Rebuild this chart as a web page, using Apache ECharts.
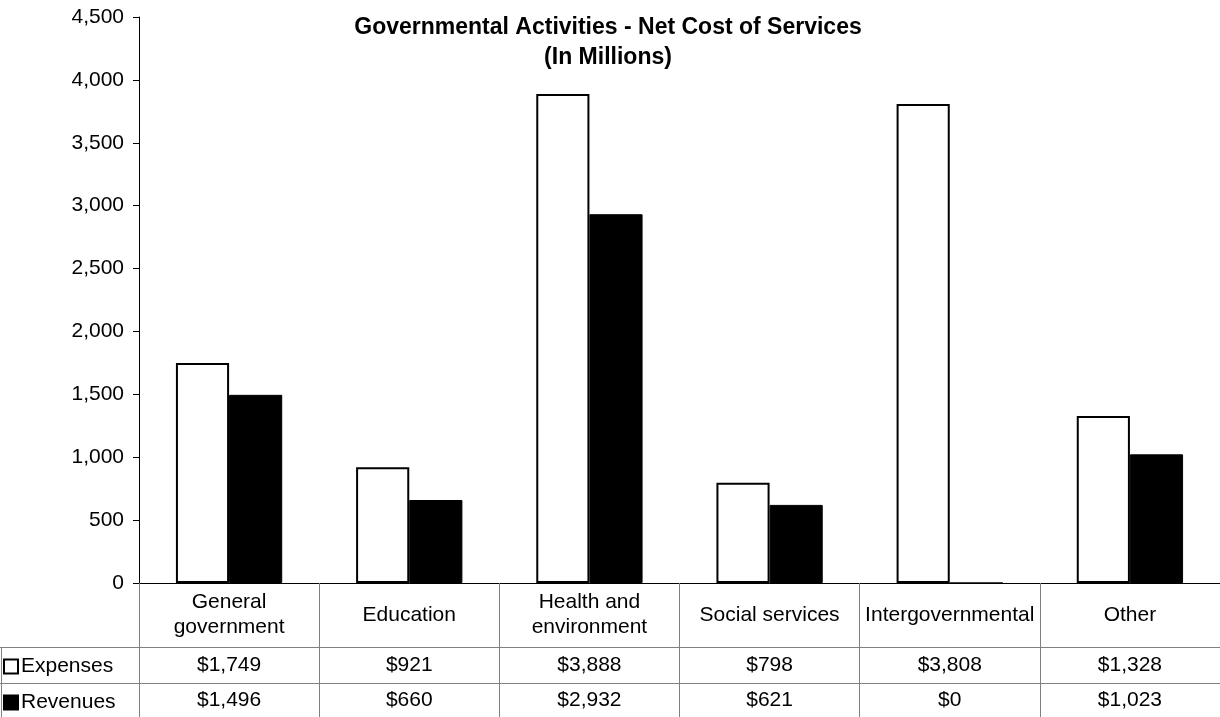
<!DOCTYPE html>
<html>
<head>
<meta charset="utf-8">
<script src="https://cdn.jsdelivr.net/npm/echarts@6/dist/echarts.min.js"></script>
<style>
  html, body { margin: 0; padding: 0; background: #fff; }
  #chart { width: 1220px; height: 717px; }
</style>
</head>
<body>
<div id="chart"></div>
<script>
const categories = ['General\ngovernment', 'Education', 'Health and\nenvironment', 'Social services', 'Intergovernmental', 'Other'];
const expenses = [1749, 921, 3888, 798, 3808, 1328];
const revenues = [1496, 660, 2932, 621, 0, 1023];

const fontFamily = '"Liberation Sans", Arial, sans-serif';
const money = v => '$' + v.toLocaleString('en-US');
const gridLine = '#808080';

const chart = echarts.init(document.getElementById('chart'));

const options = {
  animation: false,
  textStyle: { fontFamily: fontFamily, color: '#000' },
  title: {
    text: 'Governmental Activities - Net Cost of Services\n(In Millions)',
    left: 603,
    textAlign: 'center',
    top: 8,
    textStyle: { fontSize: 23, fontWeight: 'bold', lineHeight: 30, fontFamily: fontFamily, color: '#000' }
  },
  legend: {
    orient: 'vertical',
    left: 3,
    top: 654,
    padding: 0,
    itemWidth: 14,
    itemHeight: 14,
    itemGap: 11,
    icon: 'rect',
    textStyle: { fontSize: 21, lineHeight: 25, fontFamily: fontFamily, color: '#000', padding: [0, 0, 0, -2] },
    data: ['Expenses', 'Revenues']
  },
  grid: { left: 139, right: 0, top: 17, bottom: 134 },
  yAxis: {
    type: 'value',
    min: 0,
    max: 4500,
    interval: 500,
    axisLine: { show: true, lineStyle: { color: '#000', width: 1 } },
    axisTick: { show: true, length: 6, lineStyle: { color: '#000' } },
    splitLine: { show: false },
    axisLabel: {
      fontSize: 21,
      color: '#000',
      margin: 15,
      formatter: v => v.toLocaleString('en-US')
    }
  },
  xAxis: [
    {
      type: 'category',
      data: categories,
      position: 'bottom',
      axisLine: { show: true, lineStyle: { color: '#000', width: 1 } },
      axisTick: { show: true, interval: 0, length: 134, lineStyle: { color: gridLine, width: 1 } },
      axisLabel: { interval: 0, fontSize: 21, color: '#000', margin: 32, lineHeight: 25, verticalAlign: 'middle' }
    },
    {
      type: 'category',
      data: categories,
      position: 'bottom',
      offset: 64,
      axisLine: { show: true, lineStyle: { color: gridLine, width: 1 } },
      axisTick: { show: false },
      axisLabel: { interval: 0, fontSize: 21, color: '#000', margin: 18, verticalAlign: 'middle', formatter: (v, i) => money(expenses[i]) }
    },
    {
      type: 'category',
      data: categories,
      position: 'bottom',
      offset: 100,
      axisLine: { show: true, lineStyle: { color: gridLine, width: 1 } },
      axisTick: { show: false },
      axisLabel: { interval: 0, fontSize: 21, color: '#000', margin: 17, verticalAlign: 'middle', formatter: (v, i) => money(revenues[i]) }
    }
  ],
  series: [
    {
      name: 'Expenses',
      type: 'bar',
      data: expenses,
      barGap: 0,
      barCategoryGap: '41%',
      itemStyle: { color: '#fff', borderColor: '#000', borderWidth: 2 }
    },
    {
      name: 'Revenues',
      type: 'bar',
      data: revenues,
      itemStyle: { color: '#000', borderColor: '#000', borderWidth: 1 }
    }
  ],
  graphic: [
    // legend column borders of the data table
    { type: 'line', shape: { x1: 0, y1: 647.5, x2: 139, y2: 647.5 }, style: { stroke: gridLine, lineWidth: 1 } },
    { type: 'line', shape: { x1: 0, y1: 683.5, x2: 139, y2: 683.5 }, style: { stroke: gridLine, lineWidth: 1 } },
    { type: 'line', shape: { x1: 1.5, y1: 647, x2: 1.5, y2: 717 }, style: { stroke: gridLine, lineWidth: 1 } }
  ]
};

chart.setOption(options);
</script>
</body>
</html>
